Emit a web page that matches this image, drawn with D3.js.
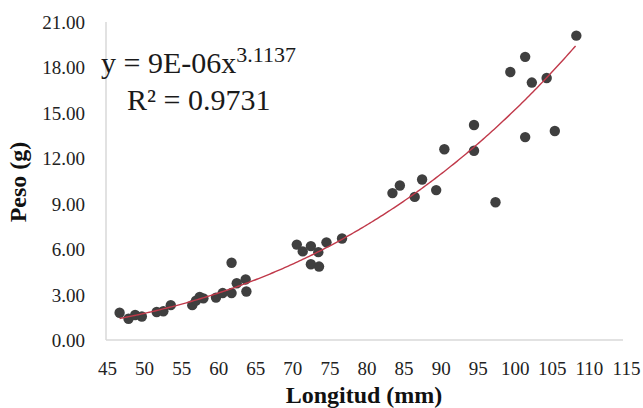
<!DOCTYPE html>
<html>
<head>
<meta charset="utf-8">
<script src="https://cdn.jsdelivr.net/npm/d3@7"></script>
<style>
  html, body { margin: 0; padding: 0; background: #fff; }
  svg { display: block; }
</style>
</head>
<body>
<svg id="chart" width="643" height="408"></svg>
<script>
// Data
const longitud = [46.7, 47.9, 48.8, 49.7, 51.7, 52.6, 53.6, 56.5, 57.0, 57.5, 58.0,
  59.7, 60.6, 61.8, 61.8, 62.5, 63.7, 63.8,
  70.6, 71.4, 72.5, 73.5, 74.6, 76.7, 72.5, 73.6,
  83.5, 84.5, 86.5, 87.5, 89.4, 90.5, 94.5, 94.5, 97.4,
  99.4, 101.4, 101.4, 102.3, 104.3, 105.4, 108.3];
const peso = [1.8, 1.4, 1.65, 1.55, 1.85, 1.9, 2.3, 2.3, 2.6, 2.85, 2.75,
  2.8, 3.1, 3.1, 5.1, 3.75, 4.0, 3.2,
  6.3, 5.85, 6.2, 5.8, 6.45, 6.7, 5.0, 4.85,
  9.7, 10.2, 9.45, 10.6, 9.9, 12.6, 14.2, 12.5, 9.1,
  17.7, 18.7, 13.4, 17.0, 17.3, 13.8, 20.1];
const xTicks = [45, 50, 55, 60, 65, 70, 75, 80, 85, 90, 95, 100, 105, 110, 115];
const yTicks = [0, 3, 6, 9, 12, 15, 18, 21];
const trendCoef = [9e-6, 3.1137];   // y = a * x^b
const eqMain = "y = 9E-06x";
const eqExp = "3.1137";
const r2Text = "R² = 0.9731";
const xTitle = "Longitud (mm)";
const yTitle = "Peso (g)";

const svg = d3.select("#chart");
const serif = "'Liberation Serif', 'Times New Roman', serif";

const x = d3.scaleLinear().domain([45, 115]).range([107, 626]);
const y = d3.scaleLinear().domain([0, 21]).range([340, 22]);

// axes lines
svg.append("line").attr("x1", x(45) - 1).attr("x2", x(115) - 3)
  .attr("y1", y(0)).attr("y2", y(0))
  .attr("stroke", "#d9d9d9").attr("stroke-width", 1.5);
svg.append("line").attr("x1", x(45) - 1).attr("x2", x(45) - 1)
  .attr("y1", y(0)).attr("y2", y(21))
  .attr("stroke", "#d9d9d9").attr("stroke-width", 1.5);

// x axis labels
const xAxis = d3.axisBottom(x).tickValues(xTicks).tickSize(0).tickPadding(0)
  .tickFormat(d3.format("d"));
const gx = svg.append("g").attr("transform", `translate(0, ${y(0)})`).call(xAxis);
gx.select(".domain").remove();
gx.selectAll("text").attr("font-family", serif).attr("font-size", 19)
  .attr("fill", "#222").attr("dy", null).attr("y", 35);

// y axis labels
const yAxis = d3.axisLeft(y).tickValues(yTicks).tickSize(0).tickPadding(0)
  .tickFormat(d3.format(".2f"));
const gy = svg.append("g").attr("transform", `translate(85, 0)`).call(yAxis);
gy.select(".domain").remove();
gy.selectAll("text").attr("font-family", serif).attr("font-size", 19)
  .attr("fill", "#222").attr("x", 0).attr("dy", "0.34em");

// trend line
const xs = d3.range(d3.min(longitud), d3.max(longitud) + 0.01, 0.25);
const line = d3.line().x(d => x(d)).y(d => y(trendCoef[0] * Math.pow(d, trendCoef[1])));

// points
svg.append("g").selectAll("circle").data(longitud).join("circle")
  .attr("cx", d => x(d)).attr("cy", (d, i) => y(peso[i]))
  .attr("r", 5.2).attr("fill", "#3f3f3f");

svg.append("path").datum(xs).attr("d", line)
  .attr("fill", "none").attr("stroke", "#c0394a").attr("stroke-width", 1.4);

// equation
const eq = svg.append("text").attr("x", 101).attr("y", 73)
  .attr("font-family", serif).attr("font-size", 30).attr("fill", "#1a1a1a");
eq.append("tspan").text(eqMain);
eq.append("tspan").attr("font-size", 22).attr("dy", -11).text(eqExp);

svg.append("text").attr("x", 127).attr("y", 110)
  .attr("font-family", serif).attr("font-size", 30).attr("fill", "#1a1a1a")
  .text(r2Text);

// axis titles
svg.append("text").attr("x", 364).attr("y", 403).attr("text-anchor", "middle")
  .attr("font-family", serif).attr("font-weight", "bold").attr("font-size", 24)
  .attr("fill", "#111").text(xTitle);

svg.append("text").attr("transform", "translate(26, 182) rotate(-90)")
  .attr("text-anchor", "middle")
  .attr("font-family", serif).attr("font-weight", "bold").attr("font-size", 24)
  .attr("fill", "#111").text(yTitle);
</script>
</body>
</html>
